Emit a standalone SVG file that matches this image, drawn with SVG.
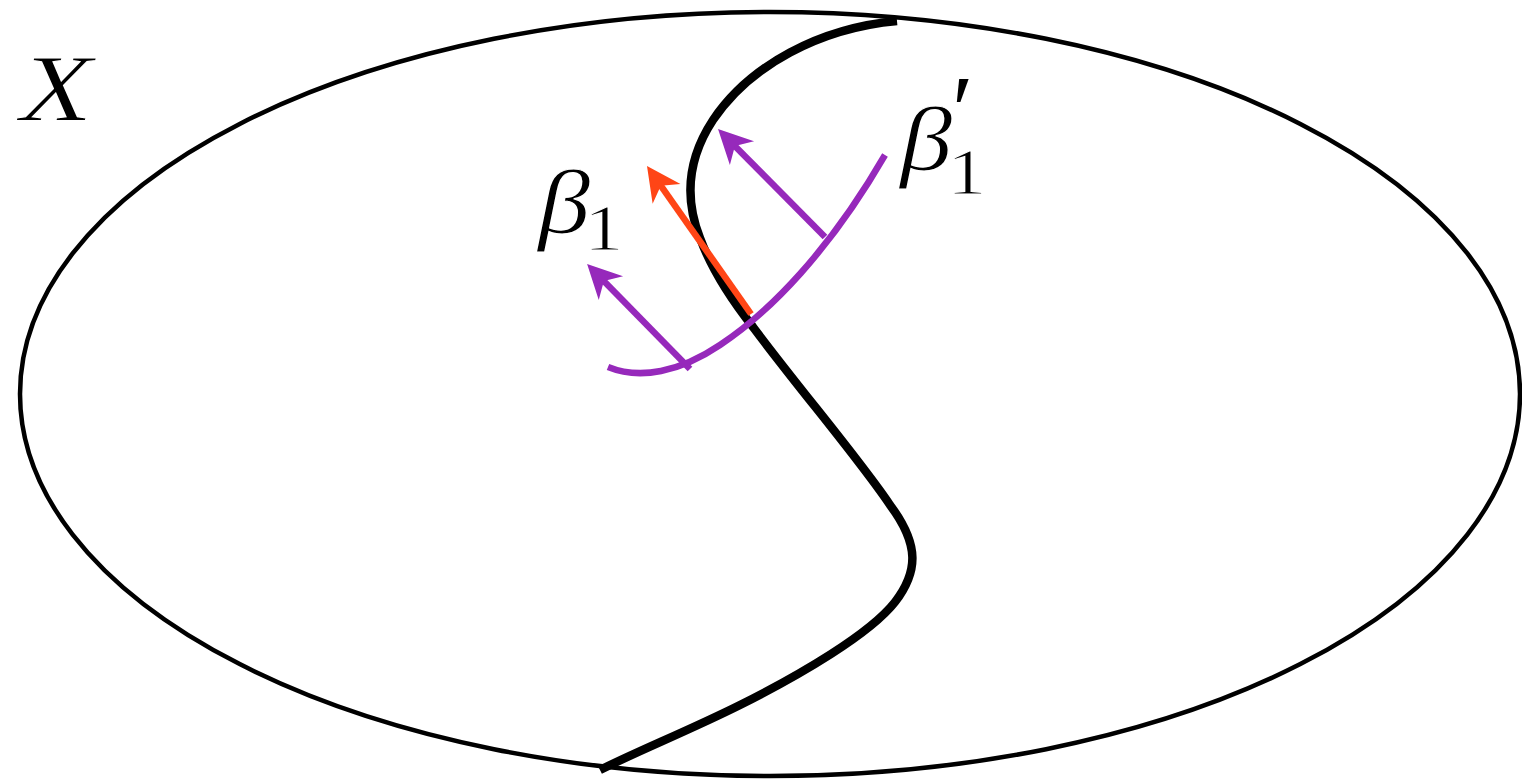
<svg xmlns="http://www.w3.org/2000/svg" width="1522" height="781" viewBox="0 0 1522 781">
<style>
.outline{fill:none;stroke:#000;stroke-width:4.5}
.cut{fill:none;stroke:#000;stroke-width:8.5;stroke-linecap:butt}
.purple{fill:none;stroke:#9629BB;stroke-width:6.5}
.red{fill:none;stroke:#FF4516;stroke-width:6.5}
.lbl{font-family:"Liberation Serif","DejaVu Serif",serif;fill:#000}
.it{font-style:italic}
.thin{stroke:#fff;stroke-width:1.2}
</style>
<defs>
<marker id="ap" markerUnits="userSpaceOnUse" markerWidth="40" markerHeight="40" refX="14" refY="17" orient="auto" overflow="visible">
<path d="M34,17 L0,0 L10,17 L0,34 Z" fill="#9629BB"/>
</marker>
<marker id="ar" markerUnits="userSpaceOnUse" markerWidth="40" markerHeight="40" refX="14" refY="17" orient="auto" overflow="visible">
<path d="M34,17 L0,0 L10,17 L0,34 Z" fill="#FF4516"/>
</marker>
</defs>
<g id="space">
<ellipse class="outline" cx="770" cy="394" rx="750" ry="382"/>
</g>
<g id="divider">
<path class="cut" d="M897 21 C820 28 750 65 713 120 C690 155 683 195 700 238 C712 270 730 298 753 327 C800 390 860 460 890 505 C920 545 918 572 895 602 C870 634 800 675 740 705 C690 730 640 750 600 770"/>
</g>
<g id="connectors">
<path class="red" d="M751 314 L658.5 182.4" marker-end="url(#ar)"/>
<path class="purple" d="M608 367 C640 380 680 372 720 345 C770 312 830 250 885 155"/>
<path class="purple" d="M690 369 L601.1 278.2" marker-end="url(#ap)"/>
<path class="purple" d="M825 237 L732.1 143.2" marker-end="url(#ap)"/>
</g>
<g id="labels">
<text class="lbl it thin" font-size="96" transform="translate(20 121) scale(1.24 1)">X</text>
<text class="lbl it thin" font-size="92" transform="translate(538 232.5) scale(1.14 1)">β</text>
<text class="lbl thin" font-size="66" transform="translate(584 250) scale(1.2 1)">1</text>
<text class="lbl it thin" font-size="92" transform="translate(900 169.5) scale(1.14 1)">β</text>
<text class="lbl thin" font-size="66" transform="translate(947 194) scale(1.2 1)">1</text>
<text class="lbl" font-size="98" x="952" y="143">′</text>
</g>
</svg>
